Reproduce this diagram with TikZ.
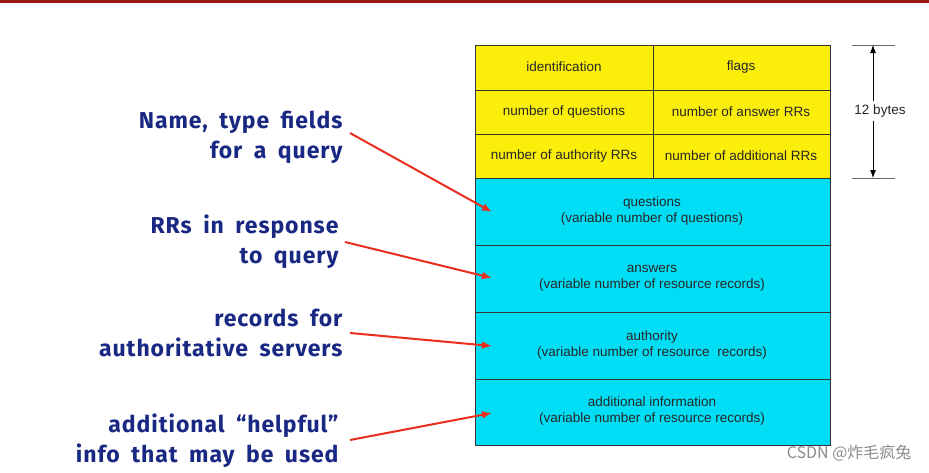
\documentclass[tikz,border=0pt]{standalone}
\usepackage{fontspec}
\usetikzlibrary{arrows.meta}
\setmainfont{Liberation Sans}
\newfontfamily\lbl[WordSpace=1.8,LetterSpace=4]{Fira Sans}
\newfontfamily\cjk{Noto Sans CJK SC}
\definecolor{topred}{RGB}{150,25,20}
\definecolor{navy}{RGB}{25,40,130}
\definecolor{arred}{RGB}{235,45,30}
\definecolor{yel}{RGB}{250,238,10}
\definecolor{cyn}{RGB}{0,222,245}
\begin{document}
\begin{tikzpicture}[x=1pt,y=-1pt,
  cell/.style={draw=black!80,line width=0.8pt},
  yel/.style={cell,fill=yel},
  cyn/.style={cell,fill=cyn},
  txt/.style={font=\fontsize{13.5}{16}\selectfont,text=black!85,align=center},
  lab/.style={font=\lbl\bfseries\fontsize{23}{30}\selectfont,text=navy,align=right,anchor=east},
  arr/.style={draw=arred,line width=2pt,-{Latex[length=10pt,width=8pt]}}]
\useasboundingbox (0,0) rectangle (929,472);
\fill[white] (0,0) rectangle (929,472);
\fill[topred] (0,0) rectangle (929,2.5);
% yellow header
\foreach \i/\a/\b in {0/45/90,1/90/134,2/134/178}{
  \draw[yel] (475,\a) rectangle (653,\b);
  \draw[yel] (653,\a) rectangle (830,\b);}
\node[txt] (id) at (564,67) {identification};
\node[txt] (fl) at (741,67) {flags};
\node[txt] (nq) at (564,112) {number of questions};
\node[txt] (na) at (741,112) {number of answer RRs};
\node[txt] (nau) at (564,156) {number of authority RRs};
\node[txt] (nad) at (741,156) {number of additional RRs};
\draw[cyn] (475,178) rectangle (830,245);
\draw[cyn] (475,245) rectangle (830,312);
\draw[cyn] (475,312) rectangle (830,379);
\draw[cyn] (475,379) rectangle (830,445);
\node[txt] (q) at (652,211) {questions\\(variable number of questions)};
\node[txt] (an) at (652,278) {answers\\(variable number of resource records)};
\node[txt] (au) at (652,345) {authority\\(variable number of resource\ \ records)};
\node[txt] (ad) at (652,411) {additional information\\(variable number of resource records)};
% dimension
\draw[black!60,line width=1pt] (852,45) -- (895,45) (852,178) -- (895,178);
\node[txt] (tb) at (880,111) {12 bytes};
\coordinate (t1) at (873,45); \coordinate (t2) at (873,178);
\draw[black,line width=0.8pt,-{Latex[length=8pt,width=6pt]}] (tb.north -| t1) -- (t1);
\draw[black,line width=0.8pt,-{Latex[length=8pt,width=6pt]}] (tb.south -| t2) -- (t2);
% labels
\node[lab] (l1) at (346,137) {Name, type fields\\for a query};
\node[lab] (l2) at (342,242) {RRs in response\\to query};
\node[lab] (l3) at (346,333) {records for\\authoritative servers};
\node[lab] (l4) at (342,441) {additional “helpful”\\info that may be used};
\coordinate (e1) at (350,133); \coordinate (e2) at (345,242);
\coordinate (e3) at (350,333); \coordinate (e4) at (350,440);
\coordinate (h1) at (492,212); \coordinate (h2) at (492,278);
\coordinate (h3) at (492,346); \coordinate (h4) at (492,413);
\draw[arr] (e1) -- (h1);
\draw[arr] (e2) -- (h2);
\draw[arr] (e3) -- (h3);
\draw[arr] (e4) -- (h4);
\node[anchor=east,text=black!45,font=\cjk\fontsize{16}{18}\selectfont] (wm) at (915,453) {CSDN @炸毛疯兔};
\end{tikzpicture}
\end{document}
